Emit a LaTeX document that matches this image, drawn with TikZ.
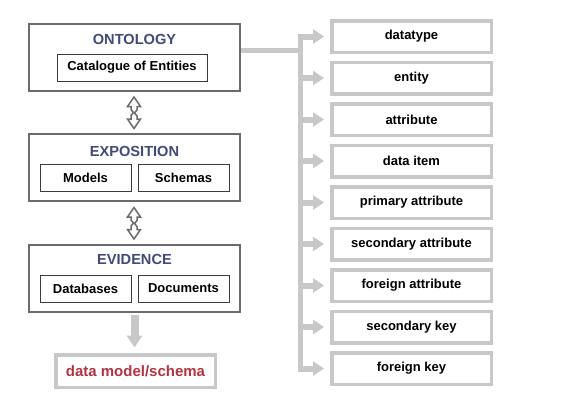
\documentclass[tikz,border=0pt]{standalone}
\usepackage{fontspec}
\setmainfont{Liberation Sans}
\usetikzlibrary{arrows.meta}
\definecolor{outgray}{RGB}{108,108,108}
\definecolor{ingray}{RGB}{60,60,60}
\definecolor{lightg}{RGB}{200,200,200}
\definecolor{titleblue}{RGB}{66,74,118}
\definecolor{darkred}{RGB}{176,52,66}
\tikzset{
  outerbox/.style={draw=outgray,line width=2.2pt,rectangle,inner sep=0pt},
  innerbox/.style={draw=ingray,line width=0.9pt,rectangle,inner sep=0pt,font=\fontsize{13}{15}\selectfont\bfseries,text=black},
  titletext/.style={font=\fontsize{14.6}{17}\selectfont\bfseries,text=titleblue,inner sep=0pt},
  rightbox/.style={draw=lightg,line width=3.5pt,rectangle,inner sep=0pt,minimum width=159.5pt,minimum height=31.5pt,font=\fontsize{13}{15}\selectfont\bfseries,text=black},
  resultbox/.style={draw=lightg,line width=3.5pt,rectangle,inner sep=0pt,minimum width=159.5pt,minimum height=32.5pt,font=\fontsize{15}{17}\selectfont\bfseries,text=darkred},
  feed/.style={draw=lightg,line width=6pt,-{Triangle[width=14pt,length=11pt]}},
  trunk/.style={draw=lightg,line width=5pt,line join=miter},
  twoway/.style={draw=outgray,line width=1.5pt,line join=miter,fill=white}
}
\newcommand{\twowayarrow}[2]{%
  \draw[twoway] (#1,#2) ++(0,-15.5) -- ++(6.5,9.5) -- ++(-3.5,0) -- ++(0,3.5) -- ++(-2.5,3) -- ++(2.5,3) -- ++(0,3) -- ++(3.5,0)
    -- ++(-6.5,9.5) -- ++(-6.5,-9.5) -- ++(3.5,0) -- ++(0,-3.5) -- ++(2.5,-3) -- ++(-2.5,-3) -- ++(0,-3) -- ++(-3.5,0) -- cycle;}
\begin{document}
\begin{tikzpicture}[x=1pt,y=-1pt]
\useasboundingbox[fill=white] (0,0) rectangle (566,413);
% left column
\node[outerbox,minimum width=211pt,minimum height=67pt] (onto) at (134.5,57.5) {};
\node[titletext] (ontot) at (134.5,39.5) {ONTOLOGY};
\node[innerbox,minimum width=150pt,minimum height=27pt] (cat) at (132,67.5) {Catalogue of Entities};

\node[outerbox,minimum width=211pt,minimum height=67pt] (expo) at (134.5,167.5) {};
\node[titletext] (expot) at (134.5,151) {EXPOSITION};
\node[innerbox,minimum width=91pt,minimum height=27pt] (models) at (85.5,177.5) {Models};
\node[innerbox,minimum width=91pt,minimum height=27pt] (schemas) at (183.5,177.5) {Schemas};

\node[outerbox,minimum width=211pt,minimum height=67pt] (evid) at (134.5,278.5) {};
\node[titletext] (evidt) at (134.5,259) {EVIDENCE};
\node[innerbox,minimum width=91pt,minimum height=27pt] (db) at (85.5,288.5) {Databases};
\node[innerbox,minimum width=91pt,minimum height=27pt] (docs) at (183.5,288.5) {Documents};

\node[resultbox] (dm) at (135.5,371) {data model/schema};

\twowayarrow{134}{112.5}
\twowayarrow{134}{223}

\draw[draw=lightg,line width=8pt,-{Triangle[width=15pt,length=12pt]}] ([yshift=-1.6pt]evid.south) -- ([yshift=5.5pt]evid.south |- dm.north);

% right column
\foreach \n/\t [count=\i from 0] in {dt/datatype,en/entity,at/attribute,di/data item,pa/primary attribute,sa/secondary attribute,fa/foreign attribute,sk/secondary key,fk/foreign key}{
  \node[rightbox] (\n) at (411.5,36.5+41.5*\i) {\t};
}
\coordinate (jn) at (300.5,50);
\draw[trunk] (onto.east |- jn) -- (jn);
\draw[trunk] (300.5,36.5) -- (300.5,368.5);
\foreach \n in {dt,en,at,di,pa,sa,fa,sk,fk}{
  \draw[feed] (\n.west -| jn) ++(-2.5,0) -- ([xshift=-6pt]\n.west);
}
\end{tikzpicture}
\end{document}
